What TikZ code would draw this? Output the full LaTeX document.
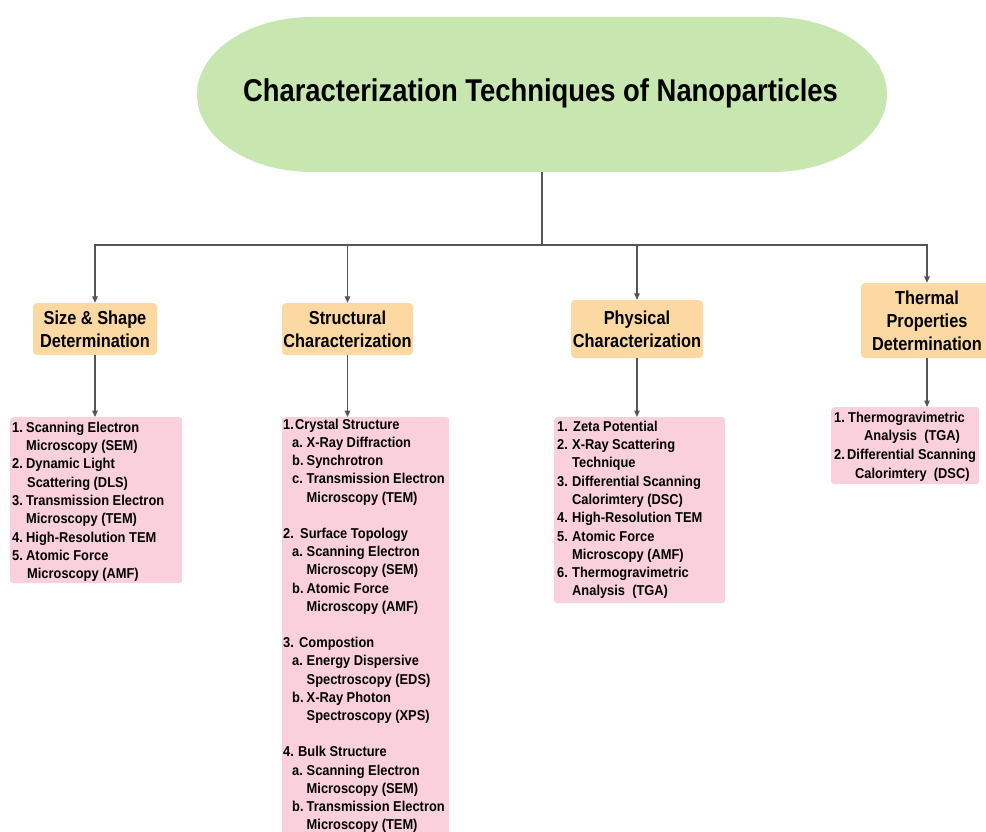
\documentclass[tikz,border=0pt]{standalone}
\usepackage{fontspec}
\setmainfont{Liberation Sans}
\newfontfamily\titlef{Liberation Sans}[FakeStretch=0.87]
\newfontfamily\headf{Liberation Sans}[FakeStretch=0.87]
\newfontfamily\itemf{Liberation Sans}[FakeStretch=0.9]
\usetikzlibrary{arrows.meta}
\definecolor{tgreen}{RGB}{200,231,176}
\definecolor{horange}{RGB}{252,217,163}
\definecolor{bpink}{RGB}{249,208,220}
\definecolor{lgray}{RGB}{85,85,85}
\newcommand{\lab}[2]{\makebox[#1pt][l]{#2}}
\newcommand{\ind}[1]{\hspace*{#1pt}}
\newcommand{\fl}{\rule{0pt}{11pt}}
\begin{document}
\begin{tikzpicture}[x=1pt,y=-1pt,
  hdr/.style={fill=horange, rounded corners=4pt, align=center, inner sep=0,
    font=\headf\bfseries\fontsize{18.8}{23}\selectfont},
  bx/.style={fill=bpink, rounded corners=3pt, inner sep=0, anchor=north west},
  txt/.style={anchor=north west, inner sep=0, align=left,
    font=\itemf\bfseries\fontsize{14.3}{18.3}\selectfont},
  conn/.style={draw=lgray, line width=1.3pt},
  arr/.style={conn, -{Triangle[length=6.5pt,width=5.5pt]}}]
\useasboundingbox (0,0) rectangle (986,832);
\fill[white] (0,0) rectangle (986,832);

% title
\fill[tgreen] (312,17) -- (772,17)
  arc[start angle=-90, end angle=90, x radius=115, y radius=77.5]
  -- (312,172)
  arc[start angle=90, end angle=270, x radius=115, y radius=77.5] -- cycle;
\node[anchor=base, inner sep=0, font=\titlef\bfseries\fontsize{31.5}{36}\selectfont]
  (title) at (540.5,102) {Characterization Techniques of Nanoparticles};
\coordinate (tbot) at (542,172);
\coordinate (j) at (542,245);

% headers
\node[hdr, minimum width=124pt, minimum height=52pt] (h1) at (95,329)
  {Size \& Shape\\Determination};
\node[hdr, minimum width=131pt, minimum height=52pt] (h2) at (347.5,329)
  {Structural\\Characterization};
\node[hdr, minimum width=132pt, minimum height=58pt] (h3) at (637,329)
  {Physical\\Characterization};
\node[hdr, minimum width=132pt, minimum height=75pt] (h4) at (927,320.5)
  {Thermal\\Properties\\Determination};

% boxes
\node[bx, minimum width=172pt, minimum height=166pt] (b1) at (10,417) {};
\node[bx, minimum width=167pt, minimum height=425pt] (b2) at (282,417) {};
\node[bx, minimum width=171pt, minimum height=186pt] (b3) at (554,417) {};
\node[bx, minimum width=148pt, minimum height=77pt] (b4) at (831,407) {};

\node[txt] (t1) at (12,421) {\fl\lab{14}{1.}Scanning Electron\\
\ind{14}Microscopy (SEM)\\
\lab{14}{2.}Dynamic Light\\
\ind{15}Scattering (DLS)\\
\lab{14}{3.}Transmission Electron\\
\ind{14}Microscopy (TEM)\\
\lab{14}{4.}High-Resolution TEM\\
\lab{14}{5.}Atomic Force\\
\ind{15}Microscopy (AMF)};

\node[txt, font=\itemf\bfseries\fontsize{14.3}{18.2}\selectfont] (t2) at (283,418) {\fl\lab{12}{1.}Crystal Structure\\
\ind{9}\lab{14.5}{a.}X-Ray Diffraction\\
\ind{9}\lab{14.5}{b.}Synchrotron\\
\ind{9}\lab{14.5}{c.}Transmission Electron\\
\ind{23.5}Microscopy (TEM)\\[18.2pt]
\lab{17}{2.}Surface Topology\\
\ind{9}\lab{14.5}{a.}Scanning Electron\\
\ind{23.5}Microscopy (SEM)\\
\ind{9}\lab{14.5}{b.}Atomic Force\\
\ind{23.5}Microscopy (AMF)\\[18.2pt]
\lab{16}{3.}Compostion\\
\ind{9}\lab{14.5}{a.}Energy Dispersive\\
\ind{23.5}Spectroscopy (EDS)\\
\ind{9}\lab{14.5}{b.}X-Ray Photon\\
\ind{23.5}Spectroscopy (XPS)\\[18.2pt]
\lab{15}{4.}Bulk Structure\\
\ind{9}\lab{14.5}{a.}Scanning Electron\\
\ind{23.5}Microscopy (SEM)\\
\ind{9}\lab{14.5}{b.}Transmission Electron\\
\ind{23.5}Microscopy (TEM)};

\node[txt] (t3) at (557,420) {\fl\lab{16}{1.}Zeta Potential\\
\lab{15}{2.}X-Ray Scattering\\
\ind{15}Technique\\
\lab{15}{3.}Differential Scanning\\
\ind{15}Calorimtery (DSC)\\
\lab{15}{4.}High-Resolution TEM\\
\lab{15}{5.}Atomic Force\\
\ind{15}Microscopy (AMF)\\
\lab{15}{6.}Thermogravimetric\\
\ind{15}Analysis\ \ (TGA)};

\node[txt, font=\itemf\bfseries\fontsize{14.3}{18.6}\selectfont] (t4) at (834,411)
{\fl\lab{14}{1.}Thermogravimetric\\
\ind{30}Analysis\ \ (TGA)\\
\lab{13}{2.}Differential Scanning\\
\ind{21}Calorimtery\ \ (DSC)};

% connectors
\draw[conn] (tbot) -- (j);
\draw[arr] (j) -| (h1.north);
\draw[arr] (j) -| (h2.north);
\draw[arr] (j) -| (h3.north);
\draw[arr] (j) -| (h4.north);
\draw[arr] (h1.south) -- (h1.south |- b1.north);
\draw[arr] (h2.south) -- (h2.south |- b2.north);
\draw[arr] (h3.south) -- (h3.south |- b3.north);
\draw[arr] (h4.south) -- (h4.south |- b4.north);
\end{tikzpicture}
\end{document}
